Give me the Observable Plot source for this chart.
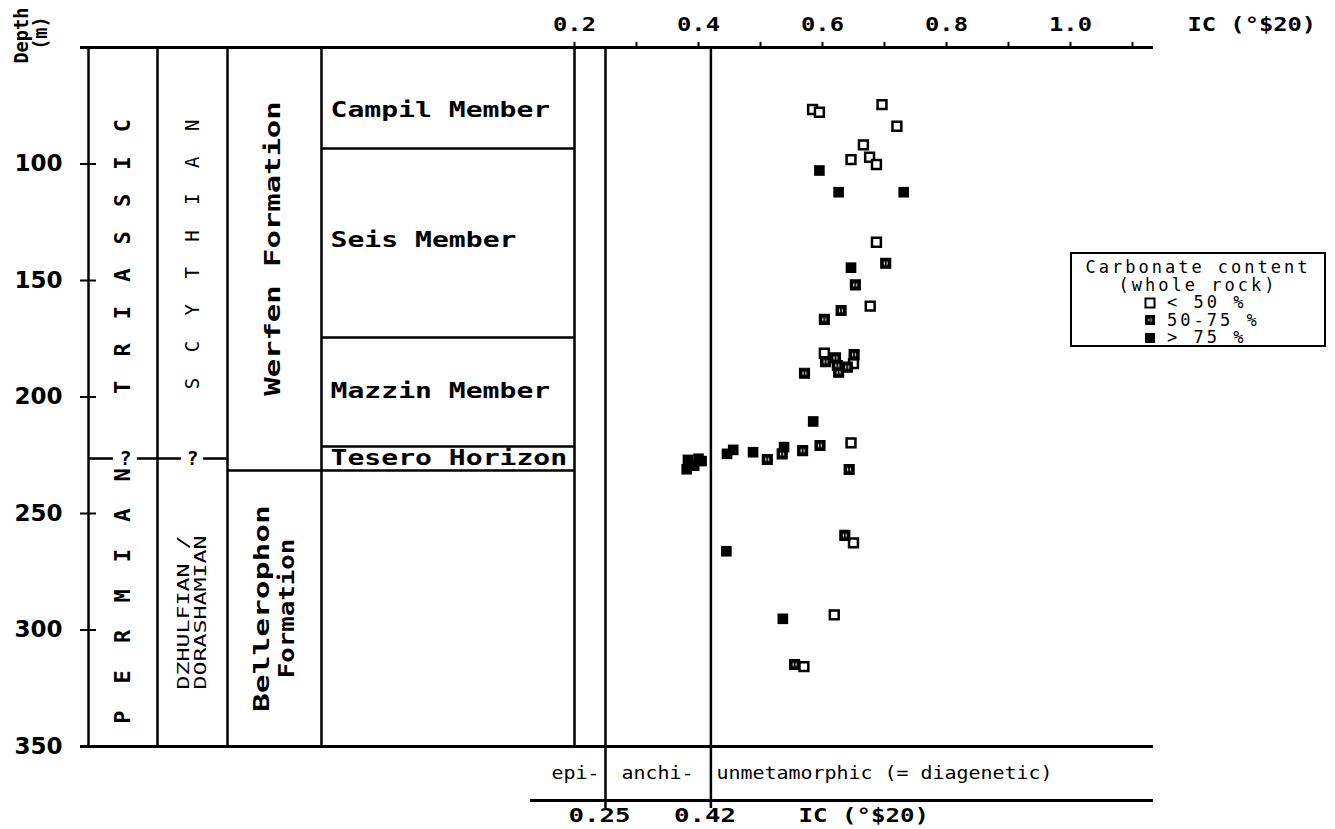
<!DOCTYPE html>
<html><head><meta charset="utf-8">
<script src="https://cdn.jsdelivr.net/npm/d3@7"></script>
<script src="https://cdn.jsdelivr.net/npm/@observablehq/plot@0.6"></script>
<style>
body{margin:0;background:#fff;}
#wrap{position:relative;width:1335px;height:829px;overflow:hidden;}
#legend{position:absolute;left:1070px;top:252px;width:252px;height:91px;border:2px solid #000;background:#fff;
  font-family:"DejaVu Sans Mono",monospace;font-size:17px;letter-spacing:3px;line-height:17.5px;color:#000;}
#legend .c{text-align:center;}
#legend .r{padding-left:72px;display:flex;align-items:center;}
#legend svg{margin-right:11px;}
</style></head><body><div id="wrap"></div>
<script>
// ---------- data: illite crystallinity (IC, °Δ2θ) vs depth (m) ----------
const icLow    = [0.584,0.595,0.696,0.720,0.666,0.646,0.676,0.687,0.687,0.677,0.603,0.650,0.646,0.650,0.619,0.570];
const depthLow = [76.6,77.8,74.5,83.8,91.8,98.1,97.1,100.2,133.6,161.0,181.2,185.7,219.7,262.6,293.5,315.7];
const icMid    = [0.702,0.653,0.630,0.603,0.605,0.621,0.651,0.640,0.626,0.624,0.571,0.596,0.568,0.535,0.511,0.643,0.636,0.555];
const depthMid = [142.6,151.9,162.9,166.7,184.8,183.2,181.8,187.2,189.4,186.5,189.8,220.8,223.0,224.4,226.8,231.1,259.4,314.8];
const icHigh    = [0.595,0.626,0.731,0.646,0.585,0.538,0.488,0.456,0.446,0.383,0.400,0.381,0.393,0.405,0.445,0.536];
const depthHigh = [102.8,112.1,112.1,144.5,210.5,221.5,223.7,222.7,224.4,227.0,226.5,231.0,229.5,227.5,266.2,295.2];

// ---------- axes ----------
const topTicks = [0.2,0.3,0.4,0.5,0.6,0.7,0.8,0.9,1.0,1.1];
const topTickLabels = ["0.2","0.4","0.6","0.8","1.0"];
const topTickLabelValues = [0.2,0.4,0.6,0.8,1.0];
const depthTicks = [100,150,200,250,300];
const depthTickLabels = ["100","150","200","250","300","350"];
const depthTickLabelValues = [100,150,200,250,300,350];
const icTitle = "IC (°$20)";

// ---------- stratigraphy ----------
const memberNames = ["Campil Member","Seis Member","Mazzin Member","Tesero Horizon"];
const memberLabelDepths = [77,132.8,197.6,226.4];
const memberBaseDepths = [93.3,174.5,221.2];
const formationBaseDepth = 231.5;
const boundaryDepth = 226.4;
const faciesNames = ["epi-","anchi-"];
const faciesCentres = [0.2016,0.3339];
const diageneticLabel = "unmetamorphic (= diagenetic)";
const faciesLimits = [0.25,0.42];
const faciesLimitLabels = ["0.25","0.42"];

// column edges expressed on the IC axis (left strip of the figure)
const colEdges = [-0.5839,-0.4726,-0.3597,-0.2081,0.2];
const xMin = -0.5968, xMax = 1.1339;

function rows(xs, ys){ return xs.map((x,i)=>({ic:x, depth:ys[i]})); }
const lowPts = rows(icLow, depthLow), midPts = rows(icMid, depthMid), highPts = rows(icHigh, depthHigh);

const F = "DejaVu Sans Mono";
const chart = Plot.plot({
  width:1335, height:829,
  marginLeft:80, marginRight:182, marginTop:47, marginBottom:83,
  x:{domain:[xMin,xMax], axis:null},
  y:{domain:[50,350], reverse:true, axis:null},
  style:{background:"white", color:"black", overflow:"visible"},
  marks:[
    Plot.ruleX(colEdges, {y1:50, y2:350, strokeWidth:2.5}),
    Plot.ruleX(faciesLimits, {y1:50, y2:376.6, strokeWidth:2.5}),
    Plot.ruleY([50], {x1:xMin, x2:xMax, strokeWidth:3}),
    Plot.ruleY([350], {x1:xMin, x2:xMax, strokeWidth:3}),
    Plot.ruleY([373.2], {x1:0.129, x2:xMax, strokeWidth:3}),
    Plot.ruleX(topTicks, {y1:50, y2:47.8, strokeWidth:2}),
    Plot.ruleY(depthTicks, {x1:xMin, x2:-0.571, strokeWidth:2}),
    Plot.ruleY(memberBaseDepths, {x1:colEdges[3], x2:0.2, strokeWidth:2.5}),
    Plot.ruleY([formationBaseDepth], {x1:colEdges[2], x2:0.2, strokeWidth:2.5}),
    Plot.ruleY([boundaryDepth,boundaryDepth,boundaryDepth], {x1:[-0.5839,-0.5048,-0.3984], x2:[-0.5435,-0.4339,colEdges[2]], strokeWidth:2.5}),
    Plot.text(["?","?"], {x:[-0.5242,-0.4161], y:[boundaryDepth,boundaryDepth], text:d=>d, fontFamily:F, fontWeight:"bold", fontSize:20}),
    Plot.text(topTickLabels, {x:(d,i)=>topTickLabelValues[i], y:()=>40.3, text:d=>d, fontFamily:F, fontWeight:"bold", fontSize:20, ariaDescription:"glyph-14.3"}),
    Plot.text([icTitle], {x:()=>1.1887, y:()=>40.3, text:d=>d, textAnchor:"start", fontFamily:F, fontWeight:"bold", fontSize:19, ariaDescription:"glyph-14.3"}),
    Plot.text(depthTickLabels, {x:()=>-0.6258, y:(d,i)=>depthTickLabelValues[i], text:d=>d, textAnchor:"end", fontFamily:"DejaVu Sans", fontWeight:"bold", fontSize:23}),
    Plot.text(["Depth"], {x:()=>-0.6919, y:()=>44.9, text:d=>d, rotate:-90, fontFamily:F, fontWeight:"bold", fontSize:20, ariaDescription:"glyph-11.2"}),
    Plot.text(["(m)"], {x:()=>-0.6613, y:()=>43.8, text:d=>d, rotate:-90, fontFamily:F, fontWeight:"bold", fontSize:19, ariaDescription:"glyph-11.2"}),
    Plot.text(["TRIASSIC"], {x:()=>-0.529, y:()=>139.7, text:d=>d, rotate:-90, fontFamily:F, fontWeight:"bold", fontSize:22, ariaDescription:"space-37.4"}),
    Plot.text(["PERMIAN"], {x:()=>-0.529, y:()=>285.4, text:d=>d, rotate:-90, fontFamily:F, fontWeight:"bold", fontSize:22, ariaDescription:"space-40.4"}),
    Plot.text(["SCYTHIAN"], {x:()=>-0.416, y:()=>138.8, text:d=>d, rotate:-90, fontFamily:F, fontSize:19, ariaDescription:"space-36.9"}),
    Plot.text(["DZHULFIAN /","DORASHAMIAN"], {x:[-0.4306,-0.4032], y:()=>292.5, text:d=>d, rotate:-90, fontFamily:F, fontSize:16, ariaDescription:"glyph-14"}),
    Plot.text(["Werfen Formation"], {x:()=>-0.2855, y:()=>136.3, text:d=>d, rotate:-90, fontFamily:F, fontWeight:"bold", fontSize:21, ariaDescription:"glyph-18.4"}),
    Plot.text(["Bellerophon"], {x:()=>-0.3032, y:()=>290.8, text:d=>d, rotate:-90, fontFamily:F, fontWeight:"bold", fontSize:21, ariaDescription:"glyph-18.8"}),
    Plot.text(["Formation"], {x:()=>-0.2629, y:()=>290.8, text:d=>d, rotate:-90, fontFamily:F, fontWeight:"bold", fontSize:21, ariaDescription:"glyph-15.5"}),
    Plot.text(memberNames, {x:()=>-0.1935, y:(d,i)=>memberLabelDepths[i], text:d=>d, textAnchor:"start", fontFamily:F, fontWeight:"bold", fontSize:21, ariaDescription:"glyph-16.9"}),
    Plot.text(faciesNames, {x:(d,i)=>faciesCentres[i], y:()=>361.6, text:d=>d, fontFamily:F, fontSize:17, ariaDescription:"glyph-12"}),
    Plot.text([diageneticLabel], {x:()=>0.429, y:()=>361.6, text:d=>d, textAnchor:"start", fontFamily:F, fontSize:17, ariaDescription:"glyph-12"}),
    Plot.text(faciesLimitLabels, {x:(d,i)=>faciesLimits[i], y:()=>379.6, dx:(-6), text:d=>d, fontFamily:F, fontWeight:"bold", fontSize:20, ariaDescription:"glyph-15.5"}),
    Plot.text([icTitle], {x:()=>0.5613, y:()=>379.6, text:d=>d, textAnchor:"start", fontFamily:F, fontWeight:"bold", fontSize:19, ariaDescription:"glyph-14.5"}),
    Plot.dot(lowPts, {x:"ic", y:"depth", symbol:"square", r:5, fill:"white", stroke:"black", strokeWidth:2.5}),
    Plot.dot(midPts, {x:"ic", y:"depth", symbol:"square", r:5.6, fill:"url(#mid5075)", stroke:"black", strokeWidth:1.2}),
    Plot.dot(highPts, {x:"ic", y:"depth", symbol:"square", r:6, fill:"black", stroke:"none"})
  ]
});

chart.insertAdjacentHTML("afterbegin",
  '<defs><pattern id="mid5075" patternUnits="objectBoundingBox" patternContentUnits="objectBoundingBox" width="1" height="1">' +
  '<rect width="1" height="1" fill="black"/><rect x="0.3" y="0.34" width="0.1" height="0.32" fill="white"/>' +
  '<rect x="0.58" y="0.34" width="0.1" height="0.32" fill="white"/></pattern></defs>');

chart.querySelectorAll("g[aria-description]").forEach(g => {
  const m = (g.getAttribute("aria-description")||"").match(/^(glyph|space)-([\d.]+)$/);
  if (!m) return;
  const pitch = +m[2];
  const fs = parseFloat(g.getAttribute("font-size")) || 16;
  g.querySelectorAll("text").forEach(t => {
    const n = t.textContent.length;
    const L = m[1] === "glyph" ? n * pitch : (n - 1) * pitch + 0.602 * fs;
    t.setAttribute("textLength", L.toFixed(1));
    t.setAttribute("lengthAdjust", m[1] === "glyph" ? "spacingAndGlyphs" : "spacing");
  });
});

const wrap = document.getElementById("wrap");
wrap.appendChild(chart);

const legendRows = ["< 50 %","50-75 %","> 75 %"];
const legendFills = ["white","url(#mid5075)","black"];
const leg = document.createElement("div");
leg.id = "legend";
let html = '<div class="c" style="margin-top:5px">Carbonate content</div><div class="c">(whole rock)</div>';
legendRows.forEach((t,i)=>{
  html += '<div class="r"><svg width="12" height="12"><rect x="1.5" y="1.5" width="9" height="9" fill="'+legendFills[i]+'" stroke="black" stroke-width="'+(i===0?2:1)+'"/></svg>' + t.replace("<","&lt;").replace(">","&gt;") + '</div>';
});
leg.innerHTML = html;
wrap.appendChild(leg);
</script></body></html>
